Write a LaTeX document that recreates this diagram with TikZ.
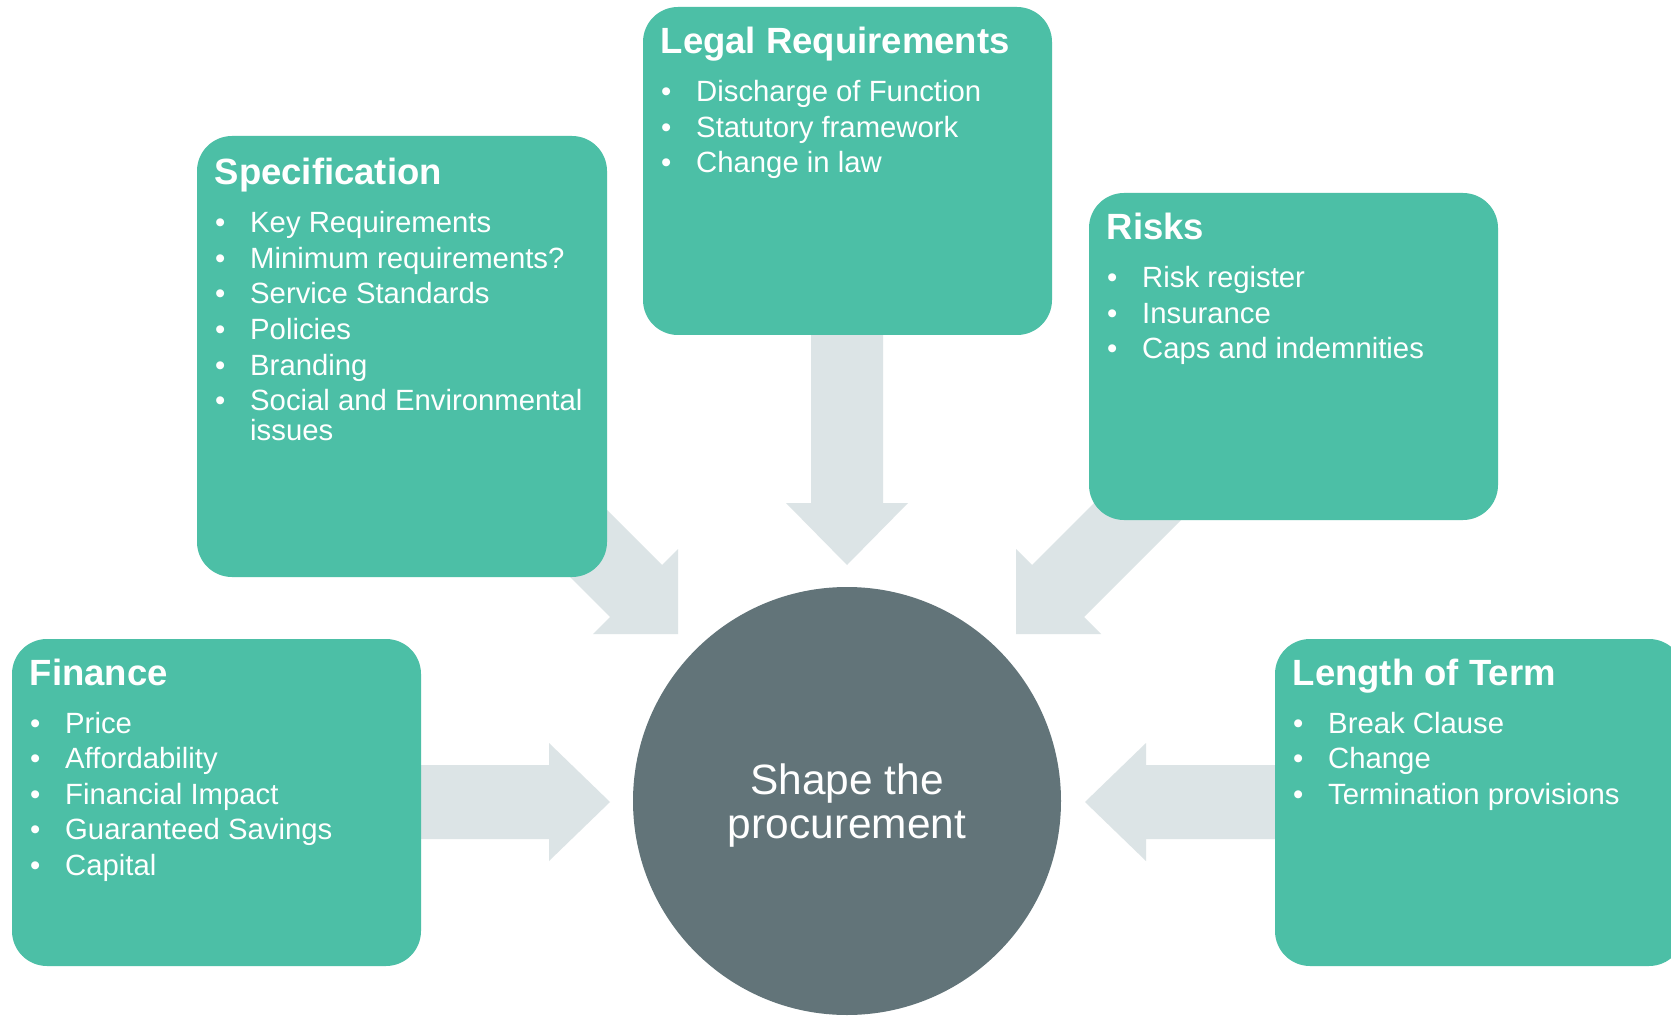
\documentclass[tikz,border=0pt]{standalone}
\usepackage{fontspec}
\setmainfont{Liberation Sans}
\definecolor{tealfill}{HTML}{4CBFA6}
\definecolor{corefill}{HTML}{627479}
\definecolor{arrowgray}{HTML}{DCE4E6}
\tikzset{
  tealbox/.style={rectangle, rounded corners=35pt, fill=tealfill, draw=none, inner sep=0pt},
  ttl/.style={inner sep=0pt, anchor=base west, text=white, font=\fontsize{36.5}{40}\selectfont\bfseries},
  itm/.style={inner sep=0pt, anchor=base west, text=white, font=\fontsize{29.3}{30.5}\selectfont},
  bul/.style={inner sep=0pt, anchor=base west, text=white, font=\fontsize{29.3}{30.5}\selectfont},
  coretxt/.style={inner sep=0pt, anchor=base, text=white, font=\fontsize{42.4}{44}\selectfont},
  blockarrow/.style={fill=arrowgray, draw=none}
}
\newcommand\panelbody[5]{%
  \node[ttl] (#1-t) at (#2+17.5, #3+47) {#4};
  \foreach \txt [count=\i] in {#5} {
    \node[bul] (#1-b\i) at (#2+18, #3+95+35.5*\i-35.5) {\textbullet};
    \node[itm] (#1-i\i) at (#2+53, #3+95+35.5*\i-35.5) {\txt};
  }
}
\begin{document}
\begin{tikzpicture}[x=1pt,y=-1pt]
\useasboundingbox (0,0) rectangle (1671,1016);
\clip (0,0) rectangle (1671,1016);
\fill[white] (0,0) rectangle (1671,1016);

% block arrows (behind boxes)
\fill[blockarrow] (811,300) -- (811,503) -- (786,503) -- (847,565) -- (908,503) -- (883,503) -- (883,300) -- cycle;
\fill[blockarrow] (400,765) -- (549,765) -- (549,743) -- (610,802) -- (549,861) -- (549,839) -- (400,839) -- cycle;
\fill[blockarrow] (1300,765) -- (1146,765) -- (1146,743) -- (1085,802) -- (1146,861) -- (1146,839) -- (1300,839) -- cycle;
\fill[blockarrow] (678,634) -- (678,549) -- (662,565) -- (542,445) -- (490,497) -- (610,617) -- (593,634) -- cycle;
\fill[blockarrow] (1016,634) -- (1016,549) -- (1032,565) -- (1152,445) -- (1204,497) -- (1084,617) -- (1101,634) -- cycle;

% boxes
\node[tealbox, minimum width=409pt, minimum height=328pt] (legal) at (847.5,171) {};
\node[tealbox, minimum width=410pt, minimum height=441pt] (spec) at (402,356.5) {};
\node[tealbox, minimum width=409pt, minimum height=327pt] (risks) at (1293.5,356.5) {};
\node[tealbox, minimum width=409pt, minimum height=327pt] (finance) at (216.5,802.5) {};
\node[tealbox, minimum width=409pt, minimum height=327pt] (term) at (1479.5,802.5) {};

% centre circle
\node[circle, fill=corefill, minimum size=428pt, inner sep=0pt] (core) at (847,801) {};
\node[coretxt] (core-l1) at (847,794) {Shape the};
\node[coretxt] (core-l2) at (847,838) {procurement};

% texts
\panelbody{lg}{643}{7}{Legal Requirements}{Discharge of Function, Statutory framework, Change in law}
\panelbody{sp}{197}{138}{Specification}{Key Requirements, Minimum requirements?, Service Standards, Policies, Branding, Social and Environmental}
\node[itm] (sp-i6b) at (250, 440.5) {issues};
\panelbody{rk}{1089}{193}{Risks}{Risk register, Insurance, Caps and indemnities}
\panelbody{fn}{12}{638}{Finance}{Price, Affordability, Financial Impact, Guaranteed Savings, Capital}
\panelbody{tm}{1275}{638}{Length of Term}{Break Clause, Change, Termination provisions}
\end{tikzpicture}
\end{document}
